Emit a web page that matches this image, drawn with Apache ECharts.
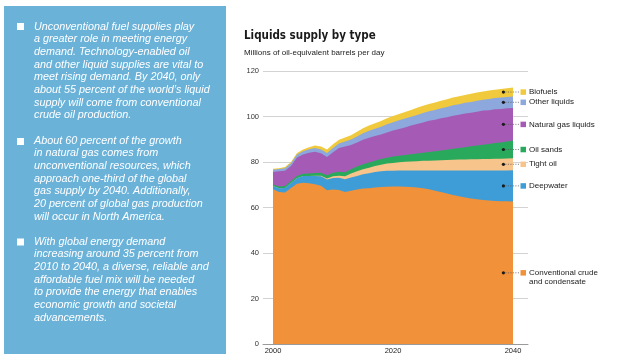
<!DOCTYPE html>
<html>
<head>
<meta charset="utf-8">
<script src="https://cdn.jsdelivr.net/npm/echarts@6/dist/echarts.min.js"></script>
<style>
html,body{margin:0;padding:0;background:#fff;}
#chart{width:627px;height:364px;}
</style>
</head>
<body>
<div id="chart"></div>
<script>
// ---- Data (millions of oil-equivalent barrels per day) ----
const years = [2000,2001,2002,2003,2004,2005,2006,2007,2008,2009,2010,2011,2012,2013,2014,2015,2016,2017,2018,2019,2020,
  2021,2022,2023,2024,2025,2026,2027,2028,2029,2030,2031,2032,2033,2034,2035,2036,2037,2038,2039,2040];

const conventional = [68.0,66.8,66.6,68.6,70.4,70.9,70.7,70.2,69.6,67.6,67.9,67.7,66.8,67.4,67.9,68.3,68.5,68.8,69.0,69.1,69.2,
  69.2,69.1,69.0,68.8,68.5,68.0,67.4,66.8,66.1,65.5,64.9,64.4,64.0,63.6,63.3,63.1,62.9,62.8,62.7,62.6];
const deepwater = [1.5,1.7,2.0,2.2,2.5,2.9,3.2,3.6,4.1,4.7,5.1,5.4,5.6,5.8,6.0,6.3,6.6,6.8,6.9,7.0,7.0,
  7.1,7.2,7.3,7.5,7.8,8.3,8.9,9.5,10.2,10.8,11.4,11.9,12.3,12.7,13.0,13.2,13.4,13.5,13.6,13.8];
const tightOil = [0,0,0,0,0,0,0,0.2,0.3,0.5,0.7,0.9,1.3,1.7,2.0,2.2,2.4,2.6,2.9,3.2,3.4,
  3.6,3.8,3.9,4.0,4.2,4.3,4.4,4.5,4.6,4.7,4.8,4.8,4.9,4.9,5.0,5.0,5.1,5.1,5.2,5.2];
const oilSands = [0.6,0.7,0.8,0.9,1.0,1.0,1.1,1.2,1.3,1.4,1.6,1.7,1.8,1.9,2.1,2.2,2.3,2.4,2.5,2.6,2.8,
  2.9,3.0,3.2,3.4,3.6,3.8,4.0,4.3,4.5,4.8,5.1,5.4,5.7,6.0,6.3,6.6,6.9,7.2,7.5,7.8];
const naturalGasLiquids = [5.5,6.7,6.8,6.5,8.1,8.5,9.1,9.3,8.5,8.0,9.0,10.4,11.3,10.7,10.6,10.8,10.9,10.8,10.8,11.1,11.4,
  11.7,12.1,12.6,13.0,13.3,13.7,13.9,14.1,14.3,14.5,14.6,14.8,14.8,14.9,15.0,14.9,14.9,14.7,14.6,14.3];
const otherLiquids = [1.0,1.0,1.1,1.2,1.3,1.4,1.5,1.6,1.7,1.8,1.9,2.0,2.2,2.4,2.6,2.8,3.0,3.2,3.4,3.6,3.7,
  3.8,3.9,3.9,4.0,4.1,4.2,4.3,4.4,4.5,4.6,4.6,4.7,4.7,4.8,4.8,4.9,4.9,5.0,5.0,5.1];
const biofuels = [0.4,0.4,0.5,0.6,0.7,0.8,0.9,1.1,1.3,1.5,1.6,1.7,1.8,1.9,2.1,2.2,2.3,2.4,2.5,2.6,2.7,
  2.8,2.9,3.0,3.1,3.2,3.2,3.3,3.3,3.4,3.4,3.5,3.5,3.6,3.6,3.6,3.7,3.7,3.8,3.8,3.9];

const seriesNames = ['Conventional crude\nand condensate','Deepwater','Tight oil','Oil sands','Natural gas liquids','Other liquids','Biofuels'];
const xTickLabels = [2000, 2020, 2040];

const paragraphs = [
  ['Unconventional fuel supplies play','a greater role in meeting energy','demand. Technology-enabled oil','and other liquid supplies are vital to','meet rising demand. By 2040, only','about 55 percent of the world\u2019s liquid','supply will come from conventional','crude oil production.'],
  ['About 60 percent of the growth','in natural gas comes from','unconventional resources, which','approach one-third of the global','gas supply by 2040. Additionally,','20 percent of global gas production','will occur in North America.'],
  ['With global energy demand','increasing around 35 percent from','2010 to 2040, a diverse, reliable and','affordable fuel mix will be needed','to provide the energy that enables','economic growth and societal','advancements.']
];

// ---- Styling ----
const colors = ['#F19139','#3E9DD7','#F7C48B','#28A95C','#A55BB5','#8CA8DC','#F0CA3C'];
const seriesData = [conventional, deepwater, tightOil, oilSands, naturalGasLiquids, otherLiquids, biofuels];
const FONT = '"Liberation Sans", Arial, sans-serif';

const chart = echarts.init(document.getElementById('chart'), null, {renderer:'canvas'});

// cumulative (stacked) tops built from the series arrays
const cumTops = [];
seriesData.forEach((arr, i) => {
  cumTops.push(arr.map((v, k) => (i > 0 ? cumTops[i - 1][k] : 0) + v));
});

// draw the outermost layer first so lower layers paint over it
const series = [];
for (let i = seriesData.length - 1; i >= 0; i--) {
  series.push({
    name: seriesNames[i],
    type: 'line',
    data: years.map((y, k) => [y, +cumTops[i][k].toFixed(3)]),
    showSymbol: false,
    symbol: 'none',
    lineStyle: {width: 0},
    areaStyle: {color: colors[i], opacity: 1},
    itemStyle: {color: colors[i]},
    silent: true
  });
}

const option = {
  animation: false,
  grid: {left: 263, right: 99, top: 71, bottom: 20, containLabel: false},
  xAxis: {
    type: 'value',
    min: 1998.3333,
    max: 2042.5,
    axisLine: {show: true, lineStyle: {color: '#9a9a9a', width: 1}},
    axisTick: {show: false},
    splitLine: {show: false},
    axisLabel: {customValues: xTickLabels, formatter: v => String(v), fontSize: 7.5, color: '#222', margin: 3, fontFamily: FONT}
  },
  yAxis: {
    type: 'value',
    min: 0, max: 120, interval: 20,
    axisLine: {show: false},
    axisTick: {show: false},
    splitLine: {show: true, lineStyle: {color: '#d2d2d2', width: 1}},
    axisLabel: {fontSize: 7.5, color: '#333', margin: 4, fontFamily: FONT}
  },
  series: series
};
chart.setOption(option);

// ---- Graphics: side panel, titles, direct labels ----
const g = [];
g.push({type:'rect', shape:{x:4, y:6, width:222, height:348}, style:{fill:'#6BB2D9'}, z:0});
const panelTops = [20.4, 134.4, 235.4];
const bulletTops = [23, 138, 238.5];
paragraphs.forEach((lines, i) => {
  g.push({type:'rect', shape:{x:17, y:bulletTops[i], width:7, height:7}, style:{fill:'#ffffff'}, z:1});
  g.push({type:'text', x:34, y:panelTops[i], z:1,
    style:{text: lines.join('\n'), fill:'#ffffff', font:'italic 10.8px ' + FONT, lineHeight:12.65, verticalAlign:'top', align:'left'}});
});
g.push({type:'text', x:244, y:36, z:5, style:{text:'Liquids supply by type', fill:'#1a1a1a',
  font:'bold 11.5px "Liberation Sans Narrow", "DejaVu Sans Condensed", "Liberation Sans", sans-serif', verticalAlign:'middle'}});
g.push({type:'text', x:244, y:52.5, z:5, style:{text:'Millions of oil-equivalent barrels per day', fill:'#222',
  font:'8px ' + FONT, verticalAlign:'middle'}});

// direct labels placed at the middle of each band at the end of the projection
const last = years.length - 1;
const labelYear = 2038.4;
const squareX = 520.5, textX = 529;
seriesData.forEach((arr, i) => {
  const top = cumTops[i][last];
  const mid = top - arr[last] / 2;
  const p = chart.convertToPixel({gridIndex: 0}, [labelYear, mid]);
  const px = p[0], py = p[1];
  g.push({type:'line', shape:{x1:px + 2, y1:py, x2:squareX - 0.5, y2:py}, style:{stroke:'#555', lineWidth:1, lineDash:[1,1.5], opacity:0.8}, z:6});
  g.push({type:'circle', shape:{cx:px, cy:py, r:1.6}, style:{fill:'#1b1b1b'}, z:7});
  g.push({type:'rect', shape:{x:squareX, y:py - 2.7, width:5.5, height:5.5}, style:{fill:colors[i]}, z:7});
  const multi = seriesNames[i].indexOf('\n') >= 0;
  g.push({type:'text', x:textX, y: multi ? py + 4.5 : py, z:7,
    style:{text: seriesNames[i], fill:'#1a1a1a', font:'8px ' + FONT, lineHeight:9, verticalAlign:'middle', align:'left'}});
});
chart.setOption({graphic: {elements: g}});
</script>
</body>
</html>
